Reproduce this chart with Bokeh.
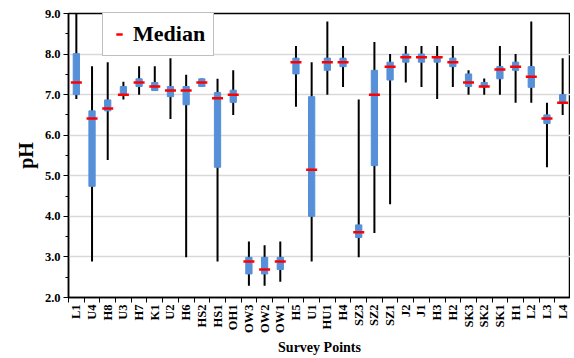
import numpy as np
from bokeh.plotting import figure
from bokeh.models import FixedTicker, ColumnDataSource, Legend, LegendItem, Range1d
from bokeh.embed import file_html
from bokeh.resources import INLINE

points = ["L1", "U4", "H8", "U3", "H7", "K1", "U2", "H6", "HS2", "HS1", "OH1",
          "OW3", "OW2", "OW1", "H5", "U1", "HU1", "H4", "SZ3", "SZ2", "SZ1",
          "J2", "J1", "H3", "H2", "SK3", "SK2", "SK1", "H1", "L2", "L3", "L4"]
ph_max = [9.0, 7.70, 7.80, 7.32, 7.70, 7.70, 7.90, 7.49, 7.40, 7.39, 7.60,
          3.38, 3.29, 3.38, 8.20, 7.80, 8.80, 8.20, 6.88, 8.30, 8.00,
          8.20, 8.20, 8.20, 8.20, 7.60, 7.40, 8.20, 8.00, 8.80, 6.80, 7.90]
ph_min = [6.89, 2.89, 5.39, 6.88, 7.00, 7.10, 6.40, 2.99, 7.20, 2.89, 6.50,
          2.29, 2.29, 2.39, 6.70, 2.89, 7.00, 7.19, 2.99, 3.59, 4.30,
          7.30, 7.19, 6.89, 7.19, 7.00, 7.00, 7.00, 6.80, 6.80, 5.21, 6.50]
ph_q3 = [8.01, 6.60, 6.87, 7.20, 7.39, 7.30, 7.20, 7.20, 7.39, 7.05, 7.11,
         2.99, 2.99, 2.99, 7.90, 6.95, 7.90, 7.90, 3.79, 7.60, 7.80,
         8.00, 8.00, 7.90, 7.90, 7.51, 7.30, 7.69, 7.80, 7.69, 6.50, 7.00]
ph_q1 = [7.00, 4.74, 6.60, 7.00, 7.20, 7.10, 6.95, 6.75, 7.20, 5.21, 6.81,
         2.58, 2.58, 2.69, 7.51, 4.00, 7.60, 7.69, 3.48, 5.25, 7.36,
         7.80, 7.80, 7.80, 7.69, 7.20, 7.19, 7.39, 7.60, 7.18, 6.29, 6.80]
ph_median = [7.30, 6.41, 6.66, 7.00, 7.30, 7.20, 7.10, 7.10, 7.30, 6.91, 7.00,
             2.89, 2.69, 2.89, 7.80, 5.15, 7.80, 7.80, 3.61, 7.00, 7.69,
             7.92, 7.92, 7.92, 7.80, 7.30, 7.20, 7.62, 7.69, 7.44, 6.41, 6.80]
y_ticks = [2, 3, 4, 5, 6, 7, 8, 9]

n = len(points)
xc = np.arange(n) + 0.5
src = ColumnDataSource(dict(x=xc, hi=ph_max, lo=ph_min, q3=ph_q3, q1=ph_q1, med=ph_median))

FONT = "Liberation Serif"

p = figure(width=570, height=358, output_backend="svg", toolbar_location=None,
           x_range=Range1d(0, n), y_range=Range1d(2, 9),
           min_border_left=68, min_border_right=0, min_border_top=13, min_border_bottom=61)

p.segment(x0="x", x1="x", y0="lo", y1="hi", source=src, line_color="black", line_width=2)
p.vbar(x="x", width=0.4, top="q3", bottom="q1", source=src, fill_color="#5590D8",
       line_color="#5590D8")
med = p.scatter(x="x", y="med", source=src, marker="dash", size=11,
                line_color="#FF0000", line_width=2.5)

legend = Legend(items=[LegendItem(label="Median", renderers=[med])],
                location=(34, 241), border_line_color="#7F7F7F", border_line_width=1.5,
                label_text_font=FONT, label_text_font_style="bold",
                label_text_font_size="22px", label_text_color="black",
                glyph_width=16, glyph_height=20, label_standoff=6, padding=8, spacing=0,
                label_height=24, background_fill_alpha=1.0)
p.add_layout(legend)

# axes
p.xaxis.ticker = FixedTicker(ticks=list(xc), minor_ticks=list(range(n + 1)))
p.xaxis.major_label_overrides = {float(v): s for v, s in zip(xc, points)}
p.xaxis.major_label_orientation = np.pi / 2
p.xaxis.major_tick_out = 0
p.xaxis.major_tick_in = 0
p.xaxis.minor_tick_out = 5
p.xaxis.minor_tick_in = 0
p.xaxis.axis_label = "Survey Points"
p.xaxis.axis_label_standoff = 4

p.yaxis.ticker = FixedTicker(ticks=y_ticks, minor_ticks=list(np.arange(2, 9.01, 0.5)))
p.yaxis.major_label_overrides = {t: f"{t:.1f}" for t in y_ticks}
p.yaxis.major_tick_out = 5
p.yaxis.major_tick_in = 0
p.yaxis.minor_tick_out = 3
p.yaxis.minor_tick_in = 0
p.yaxis.axis_label = "pH"
p.yaxis.axis_label_standoff = 5

for ax in (p.xaxis[0], p.yaxis[0]):
    ax.axis_line_color = "black"
    ax.axis_line_width = 1.5
    ax.major_tick_line_color = "black"
    ax.minor_tick_line_color = "black"
    ax.major_tick_line_width = 1
    ax.minor_tick_line_width = 1
    ax.major_label_text_font = FONT
    ax.major_label_text_font_style = "bold"
    ax.major_label_text_font_size = "12.5px"
    ax.major_label_text_color = "black"
    ax.axis_label_text_font = FONT
    ax.axis_label_text_font_style = "bold"
    ax.axis_label_text_color = "black"

p.xaxis.major_label_standoff = 2
p.yaxis.major_label_standoff = 3
p.xaxis.axis_label_text_font_size = "14px"
p.yaxis.axis_label_text_font_size = "20px"

p.xgrid.grid_line_color = None
p.ygrid.ticker = FixedTicker(ticks=y_ticks)
p.ygrid.grid_line_color = "#D9D9D9"
p.ygrid.grid_line_width = 1.5

p.outline_line_color = "black"
p.outline_line_width = 1.5
p.outline_line_alpha = 1.0
p.background_fill_color = "white"
p.border_fill_color = "white"

open("out.html", "w").write(file_html(p, INLINE))
